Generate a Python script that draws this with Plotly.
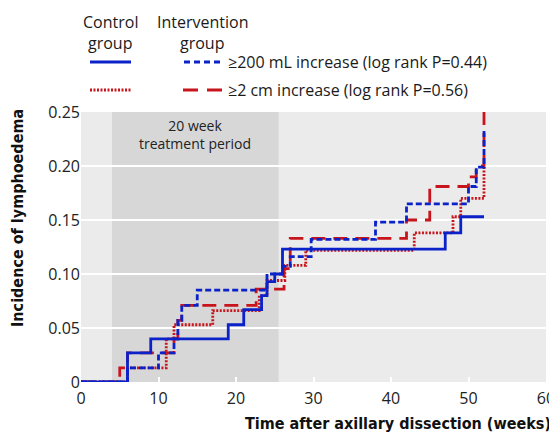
import plotly.graph_objects as go

# ---------------- data ----------------
ctrl_ml_weeks = [0, 6, 9, 19, 21, 23.3, 24, 25, 26, 47, 49, 52]
ctrl_ml_inc = [0, 0.027, 0.040, 0.053, 0.067, 0.080, 0.093, 0.100, 0.123, 0.138, 0.153, 0.153]

int_ml_weeks = [0, 6, 10, 12, 12.5, 13, 15, 24, 26, 27, 29.7, 38, 42, 50, 51, 52]
int_ml_inc = [0, 0.013, 0.027, 0.040, 0.057, 0.071, 0.085, 0.100, 0.107, 0.116, 0.132, 0.148, 0.165, 0.181, 0.199, 0.233]

ctrl_cm_weeks = [0, 6, 11, 12, 17, 23, 24, 26.3, 29, 43, 48, 49, 52]
ctrl_cm_inc = [0, 0.013, 0.040, 0.053, 0.066, 0.080, 0.094, 0.108, 0.122, 0.138, 0.153, 0.170, 0.200]

int_cm_weeks = [0, 5, 6, 12, 12.5, 13, 22.6, 26.2, 27, 42, 45, 50, 51, 52]
int_cm_inc = [0, 0.013, 0.027, 0.040, 0.057, 0.071, 0.086, 0.105, 0.133, 0.150, 0.181, 0.190, 0.200, 0.250]

treatment_start, treatment_end = 4, 25.5
x_ticks = [0, 10, 20, 30, 40, 50, 60]
y_ticks = [0, 0.05, 0.10, 0.15, 0.20, 0.25]
y_tick_labels = ["0", "0.05", "0.10", "0.15", "0.20", "0.25"]
legend_ml = "≥200 mL increase (log rank P=0.44)"
legend_cm = "≥2 cm increase (log rank P=0.56)"

# ---------------- style ----------------
BLUE = "#0b22c9"
RED = "#c8141c"
OFF = 8                      # page body margin of the html page
W, H = 557 - OFF, 437 - OFF
ML, MR, MT, MB = 81 - OFF, 11, 112 - OFF, 55
PW, PH = W - ML - MR, H - MT - MB
FONT = "Open Sans, Noto Sans, sans-serif"
BOLD = "Liberation Sans Narrow, DejaVu Sans Condensed, Roboto, sans-serif"

def px2x(px):
    return (px - OFF - ML) / PW

def px2y(py):
    return (H - MB - (py - OFF)) / PH

fig = go.Figure()
series = [
    (ctrl_cm_weeks, ctrl_cm_inc, RED, "2px,1.5px"),
    (int_cm_weeks, int_cm_inc, RED, "14px,8px"),
    (ctrl_ml_weeks, ctrl_ml_inc, BLUE, "solid"),
    (int_ml_weeks, int_ml_inc, BLUE, "6px,3px"),
]
for xs, ys, col, dash in series:
    fig.add_trace(go.Scatter(x=xs, y=ys, mode="lines", line=dict(color=col, width=2.8, dash=dash, shape="hv"),
                             showlegend=False, hoverinfo="skip", cliponaxis=True))

shapes = [dict(type="rect", xref="x", yref="paper", x0=treatment_start, x1=treatment_end, y0=0, y1=1,
               fillcolor="#d7d7d7", line=dict(width=0), layer="below")]

# legend samples
row1, row2 = 62, 90
for (x0, x1, py, col, dash) in [
    (90, 131, row1, BLUE, "solid"),
    (184, 223, row1, BLUE, "6px,4px"),
    (90, 131, row2, RED, "2px,1.5px"),
    (183, 223, row2, RED, "15px,9px"),
]:
    shapes.append(dict(type="line", xref="paper", yref="paper", x0=px2x(x0), x1=px2x(x1), y0=px2y(py), y1=px2y(py),
                       line=dict(color=col, width=3, dash=dash)))

ann = []
def txt(text, px, py, xanchor="center", size=16, font=FONT, color="#1a1a1a", **kw):
    ann.append(dict(text=text, xref="paper", yref="paper", x=px2x(px), y=px2y(py), xanchor=xanchor,
                    yanchor="middle", showarrow=False, font=dict(family=font, size=size, color=color), **kw))

txt("Control", 110, 22)
txt("group", 110, 43)
txt("Intervention", 202, 22)
txt("group", 202, 43)
txt(legend_ml, 226, row1, xanchor="left")
txt(legend_cm, 226, row2, xanchor="left")
txt("<b>Time after axillary dissection (weeks)</b>", 553, 424, xanchor="right", size=16, font=BOLD, color="#111")
ann.append(dict(text="<b>Incidence of lymphoedema</b>", xref="paper", yref="paper", x=px2x(17), y=px2y(218),
                xanchor="center", yanchor="middle", textangle=-90, showarrow=False,
                font=dict(family=BOLD, size=16, color="#111")))
ann.append(dict(text="20 week<br>treatment period", xref="x", yref="paper", x=(treatment_start + treatment_end) / 2,
                y=px2y(135), xanchor="center", yanchor="middle", showarrow=False,
                font=dict(family=FONT, size=14, color="#222")))

fig.update_layout(
    width=W, height=H, margin=dict(l=ML, r=MR, t=MT, b=MB, autoexpand=False),
    paper_bgcolor="white", plot_bgcolor="#ebebeb",
    shapes=shapes, annotations=ann, showlegend=False,
    xaxis=dict(range=[0, 60], tickvals=x_ticks, showgrid=False, zeroline=False, showline=False,
               ticks="inside", ticklen=5, tickwidth=1.5, tickcolor="white", ticklabelstandoff=5,
               tickfont=dict(family=FONT, size=16, color="#222")),
    yaxis=dict(range=[0, 0.25], tickvals=y_ticks, ticktext=y_tick_labels, showgrid=True, gridcolor="white",
               gridwidth=2, zeroline=False, showline=False, ticks="",
               tickfont=dict(family=FONT, size=16, color="#222")),
)
fig.write_html("out.html")
